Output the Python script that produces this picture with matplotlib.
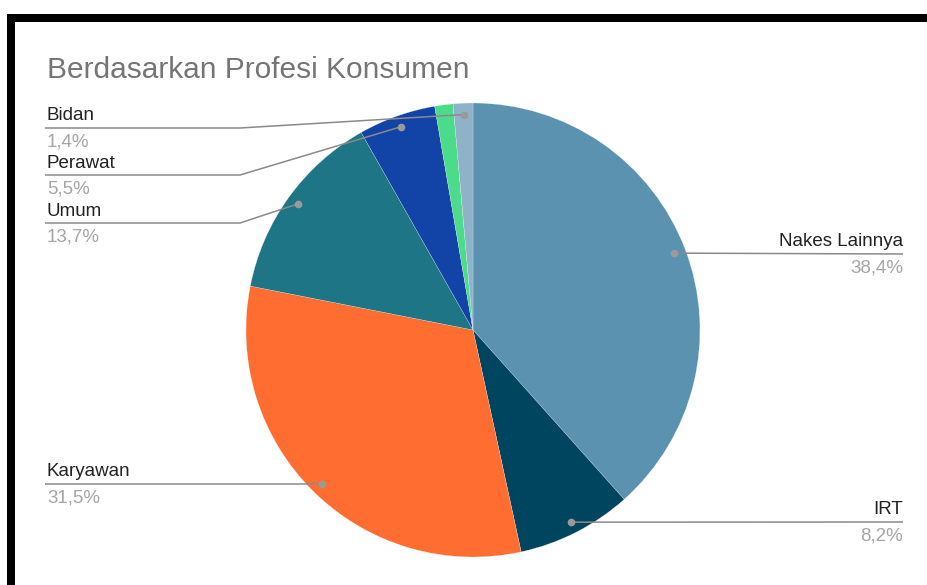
import numpy as np
import matplotlib
matplotlib.use("Agg")
import matplotlib.pyplot as plt
from matplotlib.patches import Rectangle

# data, clockwise from 12 o'clock
categories = ["Nakes Lainnya", "IRT", "Karyawan", "Umum", "Perawat", "Lainnya", "Bidan"]
shares = [38.4, 8.2, 31.5, 13.7, 5.5, 1.3, 1.4]
pct_labels = ["38,4%", "8,2%", "31,5%", "13,7%", "5,5%", "1,3%", "1,4%"]
colors = ["#5a92af", "#00455f", "#ff6d31", "#1e7585", "#1244a8", "#4cdb8b", "#8eb2c7"]

W, H = 927, 585
fig = plt.figure(figsize=(W / 100, H / 100), dpi=100)
ax = fig.add_axes([0, 0, 1, 1])
ax.set_aspect("equal")


def py(y):
    # screen y (from top) -> data y
    return H - y


# black frame with white chart area
ax.add_patch(Rectangle((7, 0), W, py(14), facecolor="black", edgecolor="none", zorder=0))
ax.add_patch(Rectangle((15, 0), W, py(22), facecolor="white", edgecolor="none", zorder=0))

ax.text(47, py(70), "Berdasarkan Profesi Konsumen", fontsize=21.5, family="Liberation Sans",
        color="#757575", va="center", ha="left")

cx, cy, r = 473, py(330), 227
wedges, _ = ax.pie(shares, colors=colors, startangle=90, counterclock=False,
                   center=(cx, cy), radius=r, frame=True,
                   wedgeprops=dict(edgecolor="white", linewidth=0.15))
ax.set_xlim(0, W)
ax.set_ylim(0, H)
ax.axis("off")

# label layout: (side, line y on screen, knee x)
layout = {
    "Bidan": ("left", 128, 240),
    "Perawat": ("left", 175, 240),
    "Umum": ("left", 223, 240),
    "Karyawan": ("left", 484, None),
    "Nakes Lainnya": ("right", 254, None),
    "IRT": ("right", 522, None),
}

for w, name, pct in zip(wedges, categories, pct_labels):
    if name not in layout:
        continue
    side, ly, knee = layout[name]
    mid = np.deg2rad((w.theta1 + w.theta2) / 2)
    dx = cx + 0.95 * r * np.cos(mid)
    dy = cy + 0.95 * r * np.sin(mid)
    if side == "left":
        xs = [45, knee if knee else dx, dx]
        ys = [py(ly), py(ly), dy]
        tx, ha = 47, "left"
    else:
        xs = [903, dx]
        ys = [py(ly), dy]
        tx, ha = 903, "right"
    ax.plot(xs, ys, color="#8a8a8a", lw=1.1, zorder=5, solid_capstyle="butt")
    ax.plot([dx], [dy], "o", color="#9a9a9a", ms=4.5, zorder=6)
    ax.text(tx, py(ly - 12), name, fontsize=13.5, family="Liberation Sans", color="#222222",
            ha=ha, va="center")
    ax.text(tx, py(ly + 14), pct, fontsize=13.5, family="Liberation Sans", color="#a6a6a6",
            ha=ha, va="center")

fig.savefig("out.png", dpi=100, facecolor="white")
